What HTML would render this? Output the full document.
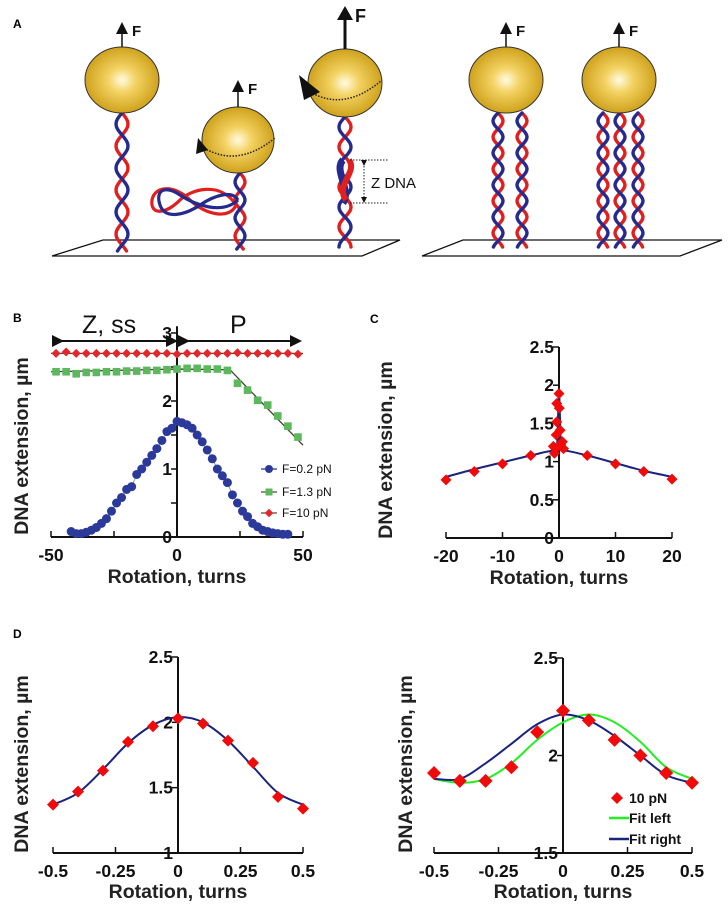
<!DOCTYPE html>
<html><head><meta charset="utf-8"><style>
body{margin:0;background:#fff}
svg{display:block;font-family:"Liberation Sans",Arial,sans-serif}
.tk{font-size:17.5px;font-weight:bold;fill:#111}
.tt{font-size:19.5px;font-weight:bold;fill:#222}
.pl{font-size:12px;font-weight:bold}
</style></head><body>
<svg id="fig" width="728" height="916" viewBox="0 0 728 916" xmlns="http://www.w3.org/2000/svg">
<defs>
<radialGradient id="gold" cx="0.5" cy="0.5" r="0.55"><stop offset="0" stop-color="#fffbe0"/><stop offset="0.35" stop-color="#f3d262"/><stop offset="1" stop-color="#c99a10"/></radialGradient>
<marker id="ah" markerWidth="6" markerHeight="6" refX="3" refY="3" orient="auto"><path d="M0,0L6,3L0,6Z" fill="#111"/></marker>
</defs>
<g id="panelA"></g>
<g id="panelB"></g>
<g id="panelC"></g>
<g id="panelD1"></g>
<g id="panelD2"></g>
</svg>
<script>
// ---- Panel B data ----
const bBlueX=[-42,-40,-38,-36,-34,-32,-30,-28,-26,-24,-22,-20,-18,-16,-14,-12,-10,-8,-6,-4,-2,0,2,4,6,8,10,12,14,16,18,20,22,24,26,28,30,32,34,36,38,40,42,44];
const bBlueY=[0.08,0.05,0.05,0.07,0.1,0.14,0.2,0.27,0.38,0.5,0.58,0.7,0.74,0.92,1.0,1.1,1.2,1.3,1.42,1.55,1.6,1.7,1.68,1.65,1.6,1.5,1.4,1.28,1.15,1.0,0.9,0.8,0.62,0.5,0.38,0.3,0.2,0.15,0.1,0.08,0.06,0.05,0.04,0.04];
const bGreenX=[-48,-44,-40,-36,-32,-28,-24,-20,-16,-12,-8,-4,0,4,8,12,16,20,24,28,32,36,40,44,48];
const bGreenY=[2.43,2.43,2.40,2.42,2.42,2.43,2.43,2.44,2.44,2.45,2.45,2.46,2.47,2.48,2.48,2.47,2.47,2.45,2.26,2.16,2.01,1.94,1.78,1.63,1.47];
const bGreenFitX=[-50,0,21,50];
const bGreenFitY=[2.43,2.47,2.46,1.35];
const bRedX=[-48,-44,-40,-36,-32,-28,-24,-20,-16,-12,-8,-4,0,4,8,12,16,20,24,28,32,36,40,44,48];
const bRedY=[2.7,2.72,2.7,2.7,2.7,2.7,2.7,2.7,2.7,2.7,2.7,2.7,2.69,2.7,2.7,2.7,2.7,2.7,2.71,2.7,2.7,2.7,2.7,2.7,2.69];
const bXTicks=[-50,0,50];
const bYTicks=[0,1,2,3];
const bLegend=["F=0.2 pN","F=1.3 pN","F=10 pN"];
// ---- Panel C data ----
const cX=[-20,-15,-10,-5,5,10,15,20,0,-0.4,0.05,-0.4,0.2,-0.5,0.6,-1.0,0.8,-0.8,-0.6,0.3];
const cY=[0.76,0.87,0.97,1.08,1.08,0.97,0.87,0.77,1.89,1.76,1.70,1.52,1.41,1.35,1.26,1.2,1.17,1.11,1.17,1.22];
const cFitX=[-20,-15,-10,-5,0,5,10,15,20];
const cFitY=[0.8,0.9,0.99,1.08,1.15,1.08,0.98,0.88,0.8];
const cSpikeX=[-0.3,0,0.3];
const cSpikeY=[1.15,1.9,1.15];
const cXTicks=[-20,-10,0,10,20];
const cYTicks=[0,0.5,1,1.5,2,2.5];
// ---- Panel D left data ----
const d1X=[-0.5,-0.4,-0.3,-0.2,-0.1,0,0.1,0.2,0.3,0.4,0.5];
const d1Y=[1.37,1.47,1.63,1.85,1.97,2.03,1.99,1.86,1.69,1.43,1.34];
const d1FitY=[1.37,1.46,1.64,1.84,1.98,2.04,2.0,1.86,1.66,1.46,1.37];
const d1YTicks=[1,1.5,2,2.5];
// ---- Panel D right data ----
const d2X=[-0.5,-0.4,-0.3,-0.2,-0.1,0,0.1,0.2,0.3,0.4,0.5];
const d2Y=[1.91,1.87,1.87,1.94,2.12,2.23,2.18,2.08,2.0,1.91,1.86];
const d2FitRightY=[1.88,1.88,1.96,2.06,2.16,2.21,2.18,2.1,2.0,1.9,1.86];
const d2FitLeftY=[1.88,1.86,1.88,1.96,2.08,2.17,2.21,2.17,2.07,1.94,1.88];
const d2YTicks=[1.5,2,2.5];
const dXTicks=[-0.5,-0.25,0,0.25,0.5];
const dXLabels=["-0.5","-0.25","0","0.25","0.5"];
const d2Legend=["10 pN","Fit left","Fit right"];

const NS="http://www.w3.org/2000/svg";
function mk(parent,tag,attrs){const e=document.createElementNS(NS,tag);for(const k in attrs)e.setAttribute(k,attrs[k]);parent.appendChild(e);return e;}
function lin(d0,d1,r0,r1){return v=>r0+(v-d0)/(d1-d0)*(r1-r0);}
function smooth(pts){let d="M"+pts[0][0]+","+pts[0][1];for(let i=0;i<pts.length-1;i++){const p0=pts[i-1]||pts[i],p1=pts[i],p2=pts[i+1],p3=pts[i+2]||p2;d+=" C"+(p1[0]+(p2[0]-p0[0])/6)+","+(p1[1]+(p2[1]-p0[1])/6)+" "+(p2[0]-(p3[0]-p1[0])/6)+","+(p2[1]-(p3[1]-p1[1])/6)+" "+p2[0]+","+p2[1];}return d;}
function diamond(g,x,y,s,c){return mk(g,'path',{d:`M${x},${y-s}L${x+s},${y}L${x},${y+s}L${x-s},${y}Z`,fill:c});}

function axes(g,xs,ys,xTicks,xLabels,yTicks,yLabels,xmin,xmax,ymin,ymax,opts){
  const x0=xs(0),y0=ys(ymin);
  const xa=mk(g,'line',{x1:xs(xmin),y1:y0,x2:xs(xmax),y2:y0,stroke:'#111','stroke-width':2});
  
  const ya=mk(g,'line',{x1:x0,y1:y0,x2:x0,y2:ys(ymax),stroke:'#111','stroke-width':2});
  
  xTicks.forEach((t,i)=>{mk(g,'line',{x1:xs(t),y1:y0,x2:xs(t),y2:y0-6,stroke:'#111','stroke-width':1.5});
    const tx=mk(g,'text',{x:xs(t),y:y0+24,'text-anchor':'middle',class:'tk'});tx.textContent=xLabels[i];
    });
  (opts.minor||[]).forEach(t=>mk(g,'line',{x1:xs(t),y1:y0,x2:xs(t),y2:y0-6,stroke:'#111','stroke-width':1.5}));
  yTicks.forEach((t,i)=>{mk(g,'line',{x1:x0,y1:ys(t),x2:x0-6,y2:ys(t),stroke:'#111','stroke-width':1.5});
    const tx=mk(g,'text',{x:x0-5,y:ys(t)+6,'text-anchor':'end',class:'tk'});tx.textContent=yLabels[i];
    });
  (opts.yminor||[]).forEach(t=>mk(g,'line',{x1:x0,y1:ys(t),x2:x0-6,y2:ys(t),stroke:'#111','stroke-width':1.5}));
  const xt=mk(g,'text',{x:opts.xtx,y:opts.xty,'text-anchor':'middle',class:'tt'});xt.textContent='Rotation, turns';
  
  const yt=mk(g,'text',{x:0,y:0,'text-anchor':'middle',class:'tt',transform:`translate(${opts.ytx},${opts.yty}) rotate(-90)`});yt.textContent='DNA extension, µm';
  
}
function label(g,t,x,y){const e=mk(g,'text',{x:x,y:y,class:'pl'});e.textContent=t;}

// ---------- Panel A ----------
(function(){
const g=document.getElementById('panelA');
label(g,'A',13,28);
const p1=mk(g,'path',{d:'M103,240 L400,240 L362,256 L52,256 Z',fill:'#fff',stroke:'#111','stroke-width':1.3});

const p2=mk(g,'path',{d:'M463,240 L722,240 L680,256 L422,256 Z',fill:'#fff',stroke:'#111','stroke-width':1.3});

function helix(x,y1,y2,amp,per,w){
  [['#e0201e',0],['#252a8f',Math.PI]].forEach(([c,ph])=>{let d='';for(let y=y1;y<=y2;y+=2){const xx=x+amp*Math.sin((y-y1)/per*2*Math.PI+ph);d+=(d?'L':'M')+xx.toFixed(1)+','+y;}
  mk(g,'path',{d:d,fill:'none',stroke:c,'stroke-width':w||3.4,'stroke-linecap':'round'});});
}
helix(122,113,252,6,44);
helix(240,173,250,5,36);
mk(g,'path',{d:'M236,205 C220,180 190,190 180,200 C165,215 150,215 152,200 C155,185 175,185 190,200 C205,215 230,220 236,205',fill:'none',stroke:'#e0201e','stroke-width':3.2});
mk(g,'path',{d:'M238,200 C222,215 195,205 180,195 C165,185 155,190 160,205 C165,220 185,215 200,205 C215,195 232,190 238,200',fill:'none',stroke:'#252a8f','stroke-width':3.2});
helix(345,117,248,6,40);
mk(g,'path',{d:'M343,160 C333,170 352,190 343,203',fill:'none',stroke:'#252a8f','stroke-width':7});
mk(g,'path',{d:'M349,160 C358,172 335,185 346,200',fill:'none',stroke:'#e0201e','stroke-width':6});
[498,522].forEach(x=>helix(x,113,248,5,32));
[603,620,638].forEach(x=>helix(x,113,248,5,32));
const spheres=[[122,80,37,33],[238,140,36,33],[345,83,37,34],[506,80,37,33],[619,80,37,33]];
spheres.forEach((s,i)=>{const e=mk(g,'ellipse',{cx:s[0],cy:s[1],rx:s[2],ry:s[3],fill:'url(#gold)',stroke:'#333','stroke-width':1});
  });
mk(g,'path',{d:'M204,148 Q238,168 275,138',fill:'none',stroke:'#222','stroke-width':1.5,'stroke-dasharray':'1.5,1.5'});
mk(g,'path',{d:'M198,138 L208,150 L196,154 Z',fill:'#111'});
mk(g,'path',{d:'M310,92 Q345,112 382,80',fill:'none',stroke:'#222','stroke-width':1.5,'stroke-dasharray':'1.5,1.5'});
mk(g,'path',{d:'M299,75 L320,92 L304,100 Z',fill:'#111'});
const arrows=[[122,47,22,1.5],[238,107,80,1.5],[345,49,6,3],[506,47,22,1.5],[619,47,22,1.5]];
arrows.forEach(a=>{mk(g,'line',{x1:a[0],y1:a[1],x2:a[0],y2:a[2]+8,stroke:'#111','stroke-width':a[3]});
  const s=a[3]>2?8:6;mk(g,'path',{d:`M${a[0]-s},${a[2]+s+6}L${a[0]},${a[2]}L${a[0]+s},${a[2]+s+6}Z`,fill:'#111'});
  const t=mk(g,'text',{x:a[0]+10,y:a[2]+(a[3]>2?16:14),'font-size':a[3]>2?18:15,'font-weight':'bold',fill:'#111'});t.textContent='F';
  });
mk(g,'line',{x1:350,y1:160,x2:388,y2:160,stroke:'#222','stroke-dasharray':'1.5,1.5'});
mk(g,'line',{x1:350,y1:203,x2:388,y2:203,stroke:'#222','stroke-dasharray':'1.5,1.5'});
mk(g,'line',{x1:364,y1:163,x2:364,y2:200,stroke:'#222','stroke-dasharray':'1.5,1.5','marker-start':'url(#ah)','marker-end':'url(#ah)'});
const z=mk(g,'text',{x:371,y:188,'font-size':15,fill:'#111'});z.textContent='Z DNA';

})();

// ---------- Panel B ----------
(function(){
const g=document.getElementById('panelB');label(g,'B',13,322);
const xs=lin(0,50,177,303),ys=lin(0,1,537,469);
axes(g,xs,ys,bXTicks,bXTicks.map(String),bYTicks,bYTicks.map(String),-50,50,0,3.1,{minor:[-25,25],yminor:[0.5,1.5,2.5],xtx:177,xty:583,ytx:28,yty:446});
mk(g,'line',{x1:58,y1:341,x2:172,y2:341,stroke:'#111','stroke-width':2,'marker-start':'url(#ah)','marker-end':'url(#ah)'});
mk(g,'line',{x1:184,y1:341,x2:296,y2:341,stroke:'#111','stroke-width':2,'marker-start':'url(#ah)','marker-end':'url(#ah)'});
const z=mk(g,'text',{x:82,y:333,'font-size':25,fill:'#111'});z.textContent='Z, ss';
const p=mk(g,'text',{x:230,y:333,'font-size':25,fill:'#111'});p.textContent='P';
mk(g,'path',{d:bBlueX.map((x,i)=>(i?'L':'M')+xs(x)+','+ys(bBlueY[i])).join(''),fill:'none',stroke:'#8890b0','stroke-width':1});
bBlueX.forEach((x,i)=>{const c=mk(g,'circle',{cx:xs(x),cy:ys(bBlueY[i]),r:4.5,fill:'#2b3a9a'});});
mk(g,'path',{d:bGreenFitX.map((x,i)=>(i?'L':'M')+xs(x)+','+ys(bGreenFitY[i])).join(''),fill:'none',stroke:'#4a3a2a','stroke-width':1.3});
bGreenX.forEach((x,i)=>{const c=mk(g,'rect',{x:xs(x)-3.8,y:ys(bGreenY[i])-3.8,width:7.6,height:7.6,fill:'#5cb85c'});});
mk(g,'line',{x1:xs(-50),y1:ys(2.7),x2:xs(50),y2:ys(2.7),stroke:'#6a3a2a','stroke-width':1.3});
bRedX.forEach((x,i)=>{const c=diamond(g,xs(x),ys(bRedY[i]),4.5,'#e3262a');});
const ly=[469,492,513];
bLegend.forEach((t,i)=>{const lg=mk(g,'g',{});
  mk(lg,'line',{x1:261,y1:ly[i],x2:277,y2:ly[i],stroke:i==0?'#2b3a9a':'#6a4a3a','stroke-width':1.3});
  if(i==0)mk(lg,'circle',{cx:269,cy:ly[i],r:4,fill:'#2b3a9a'});
  else if(i==1)mk(lg,'rect',{x:265.5,y:ly[i]-3.5,width:7,height:7,fill:'#5cb85c'});
  else diamond(lg,269,ly[i],4.3,'#e3262a');
  const tx=mk(lg,'text',{x:282,y:ly[i]+4,'font-size':12,fill:'#111'});tx.textContent=t;});
})();

// ---------- Panel C ----------
(function(){
const g=document.getElementById('panelC');label(g,'C',370,323);
const xs=lin(0,20,559,672),ys=lin(0,2.5,538,347);
axes(g,xs,ys,cXTicks,cXTicks.map(String),cYTicks,cYTicks.map(String),-20,20,0,2.5,{xtx:559,xty:584,ytx:392,yty:450});
mk(g,'path',{d:smooth(cFitX.map((x,i)=>[xs(x),ys(cFitY[i])])),fill:'none',stroke:'#1a237e','stroke-width':2});
mk(g,'path',{d:cSpikeX.map((x,i)=>(i?'L':'M')+xs(x)+','+ys(cSpikeY[i])).join(''),fill:'none',stroke:'#1a237e','stroke-width':2.5});
cX.forEach((x,i)=>{const d=diamond(g,xs(x),ys(cY[i]),5.5,'#f00a0a');});
})();

// ---------- Panel D left ----------
(function(){
const g=document.getElementById('panelD1');label(g,'D',13,638);
const xs=lin(0,0.5,178,303),ys=lin(1,2.5,853,657);
axes(g,xs,ys,dXTicks,dXLabels,d1YTicks,d1YTicks.map(String),-0.5,0.5,1,2.5,{xtx:178,xty:898,ytx:28,yty:764});
mk(g,'path',{d:smooth(d1X.map((x,i)=>[xs(x),ys(d1FitY[i])])),fill:'none',stroke:'#1a237e','stroke-width':2});
d1X.forEach((x,i)=>{const d=diamond(g,xs(x),ys(d1Y[i]),6,'#f00a0a');});
})();

// ---------- Panel D right ----------
(function(){
const g=document.getElementById('panelD2');
const xs=lin(0,0.5,563,692),ys=lin(1.5,2.5,853,658);
axes(g,xs,ys,dXTicks,dXLabels,d2YTicks,d2YTicks.map(String),-0.5,0.5,1.5,2.5,{xtx:563,xty:898,ytx:412,yty:764});
mk(g,'path',{d:smooth(d2X.map((x,i)=>[xs(x),ys(d2FitLeftY[i])])),fill:'none',stroke:'#22ee22','stroke-width':2});
mk(g,'path',{d:smooth(d2X.map((x,i)=>[xs(x),ys(d2FitRightY[i])])),fill:'none',stroke:'#1a237e','stroke-width':2});
d2X.forEach((x,i)=>{const d=diamond(g,xs(x),ys(d2Y[i]),7,'#f00a0a');});
const ly=[798,818,839];
d2Legend.forEach((t,i)=>{const lg=mk(g,'g',{});
  if(i==0)diamond(lg,617,ly[i],6,'#f00a0a');
  else mk(lg,'line',{x1:609,y1:ly[i],x2:629,y2:ly[i],stroke:i==1?'#22ee22':'#1a237e','stroke-width':2.5});
  const tx=mk(lg,'text',{x:629,y:ly[i]+5,'font-size':14,'font-weight':'bold',fill:'#111'});tx.textContent=t;});
})();
</script>
</body></html>
